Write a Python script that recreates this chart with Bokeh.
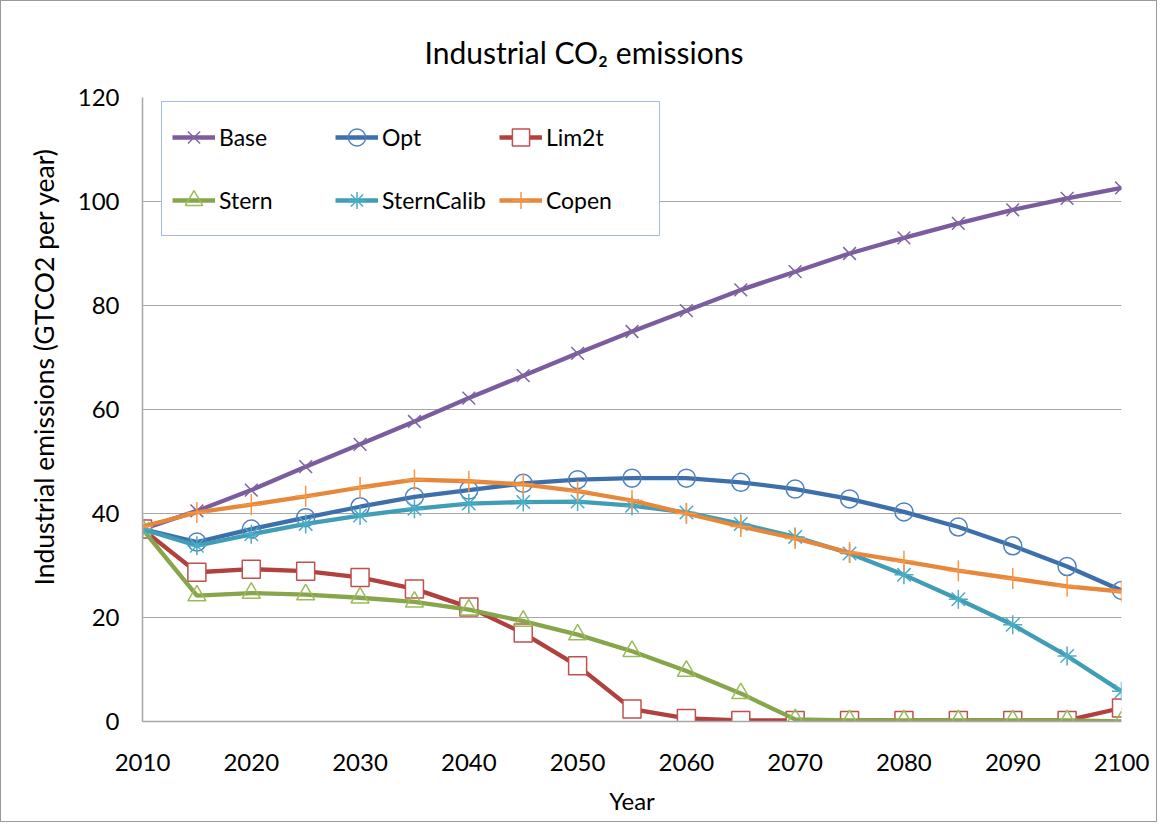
from bokeh.plotting import figure
from bokeh.models import Legend, LegendItem, SingleIntervalTicker, Title
from bokeh.embed import file_html
from bokeh.resources import INLINE

years = [2010, 2015, 2020, 2025, 2030, 2035, 2040, 2045, 2050, 2055,
         2060, 2065, 2070, 2075, 2080, 2085, 2090, 2095, 2100]

base = [37.0, 40.5, 44.5, 49.0, 53.3, 57.7, 62.2, 66.5, 70.8, 75.0,
        79.0, 83.0, 86.5, 90.0, 93.0, 95.8, 98.4, 100.6, 102.6]
opt = [37.0, 34.5, 37.0, 39.2, 41.3, 43.2, 44.5, 45.8, 46.5, 46.8,
       46.8, 46.0, 44.7, 42.8, 40.3, 37.4, 33.8, 29.8, 25.2]
lim2t = [37.0, 28.7, 29.3, 28.9, 27.7, 25.5, 22.0, 17.0, 10.7, 2.4,
         0.6, 0.2, 0.2, 0.2, 0.2, 0.2, 0.2, 0.2, 2.6]
stern = [37.0, 24.2, 24.7, 24.4, 23.8, 23.0, 21.5, 19.3, 16.7, 13.5,
         9.7, 5.4, 0.4, 0.2, 0.2, 0.2, 0.2, 0.2, 0.0]
sterncalib = [37.0, 33.8, 36.0, 38.0, 39.6, 40.9, 41.9, 42.2, 42.3, 41.5,
              40.2, 38.0, 35.5, 32.3, 28.2, 23.5, 18.6, 12.6, 5.8]
copen = [37.5, 40.2, 41.7, 43.3, 45.0, 46.5, 46.2, 45.6, 44.3, 42.5,
         40.0, 37.5, 35.2, 32.5, 30.8, 29.0, 27.5, 26.0, 25.0]

names = ["Base", "Opt", "Lim2t", "Stern", "SternCalib", "Copen"]
series = [base, opt, lim2t, stern, sterncalib, copen]

FONT = "Lato"
GRID = "#a6a6a6"

p = figure(width=1157, height=822, output_backend="svg", toolbar_location=None,
           x_range=(2010, 2100), y_range=(0, 120),
           min_border_left=141, min_border_right=37,
           min_border_top=96, min_border_bottom=102,
           title="Industrial CO\u2082 emissions")
p.styles = {"border": "1px solid #9a9a9a"}
p.outline_line_color = None

p.title.align = "left"
p.title.text_font = FONT
p.title.text_font_size = "30px"
p.title.text_font_style = "normal"
p.title.text_color = "black"
p.title.offset = 282
p.title.standoff = 56

p.xaxis.ticker = SingleIntervalTicker(interval=10)
p.yaxis.ticker = SingleIntervalTicker(interval=20)
for ax in (p.xaxis, p.yaxis):
    ax.axis_line_color = GRID
    ax.axis_line_width = 1.5
    ax.major_tick_line_color = None
    ax.minor_tick_line_color = None
    ax.major_tick_out = 0
    ax.major_tick_in = 0
    ax.major_label_text_font = FONT
    ax.major_label_text_font_size = "24px"
    ax.major_label_text_color = "black"
    ax.axis_label_text_font = FONT
    ax.axis_label_text_font_style = "normal"
    ax.axis_label_text_color = "black"
p.xaxis.axis_label = "Year"
p.xaxis.axis_label_text_font_size = "24px"
p.xaxis.major_label_standoff = 28
p.yaxis.major_label_standoff = 19
p.xaxis.axis_label_standoff = 12

# y-axis title sits above the frame centre in the reference: use a left-side title
ytitle = Title(text="Industrial emissions (GTCO2 per year)", align="left",
               offset=136, standoff=30, text_font=FONT, text_font_size="26.5px",
               text_font_style="normal", text_color="black")
p.add_layout(ytitle, "left")

p.xgrid.grid_line_color = None
p.ygrid.grid_line_color = GRID
p.ygrid.grid_line_width = 1.2

line_colors = ["#7b5c9e", "#3d6faa", "#b0413e", "#87a54a", "#3f9db5", "#e5883b"]
mark_colors = ["#8064a2", "#4f81bd", "#c0504d", "#9bbb59", "#4bacc6", "#f79646"]
markers = ["x", "circle", "square", "triangle", "asterisk", "cross"]
fills = [None, None, "white", None, None, None]
sizes = [18, 18, 18, 18, 19, 21]

items = {}
for name, ys, lc, mc, mk, fc, sz in zip(names, series, line_colors, mark_colors,
                                       markers, fills, sizes):
    r1 = p.line(years, ys, line_color=lc, line_width=4.3)
    r2 = p.scatter(years, ys, marker=mk, size=sz, line_color=mc, line_width=1.5,
                   fill_color=fc if fc else None)
    items[name] = LegendItem(label=name, renderers=[r1, r2])

# legend fills column by column: order so that rows read Base/Opt/Lim2t, Stern/SternCalib/Copen
legend_order = ["Base", "Stern", "Opt", "SternCalib", "Lim2t", "Copen"]
legend = Legend(items=[items[n] for n in legend_order], ncols=3, location=(19, 485),
                border_line_color="#4a7ebb", border_line_width=1.2,
                background_fill_color="white", background_fill_alpha=1,
                label_text_font=FONT, label_text_font_size="23px",
                label_text_color="black",
                glyph_width=43, glyph_height=50, label_height=50,
                label_width=103, label_standoff=4, spacing=13, padding=10,
                margin=0)
p.add_layout(legend, "center")

open("out.html", "w").write(file_html(p, INLINE))
